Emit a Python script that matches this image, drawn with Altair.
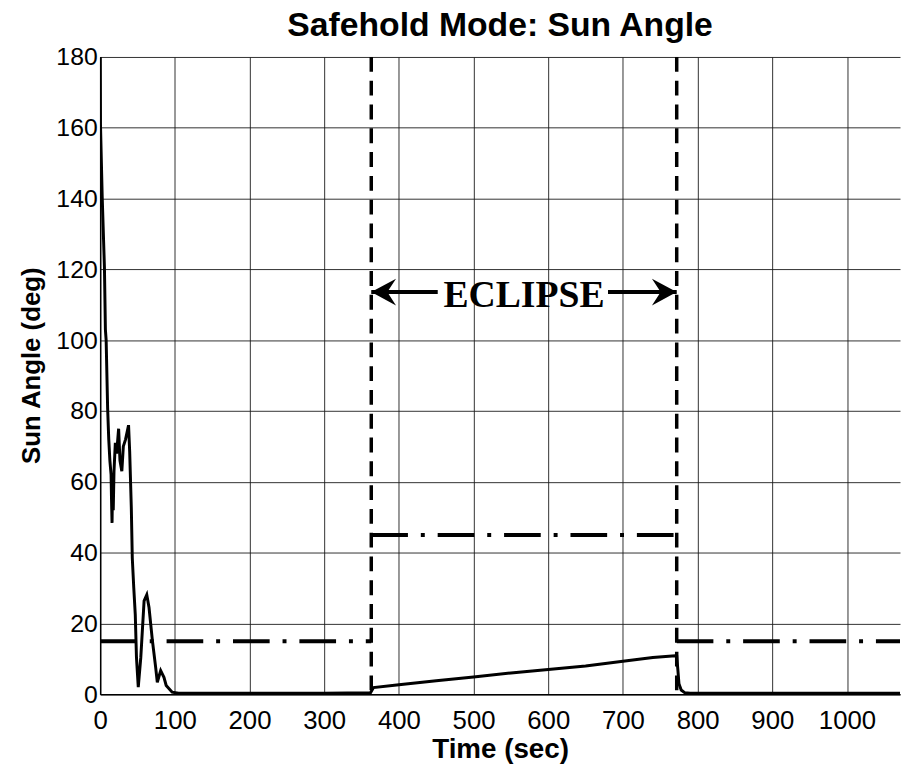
import altair as alt
import pandas as pd

# ---- data ----
time_s = [0, 0.4, 2.7, 5.7, 7, 8, 10, 11.5, 13, 14.6, 15.2, 15.9, 16.5, 17.5, 18.5, 20.3, 22,
          24.7, 26.5, 29, 31, 34, 38, 39.5, 41.7, 43, 45, 47, 48.6, 51, 54.4, 58.8, 62.4,
          65.4, 69.9, 74.3, 76.5, 81, 85.4, 88.4, 96.4, 105, 200, 300, 362,
          366, 400, 450, 500, 550, 600, 650, 700, 740, 770, 772, 773.5, 775, 778, 783,
          790, 900, 1071]
sun_angle = [180, 161, 140.6, 120.6, 103, 100, 80.7, 72, 66, 62, 55, 48.4, 58, 52, 63, 71, 68,
             75, 66, 63, 70, 72, 76, 68.6, 52.6, 38.5, 30, 22.5, 10.4, 2, 10.4, 26.4, 28.1,
             24.5, 15.2, 7.6, 3.4, 6.7, 4.8, 2.5, 0.6, 0.3, 0.3, 0.3, 0.4,
             1.9, 2.7, 3.8, 4.9, 6.0, 7.0, 8.0, 9.3, 10.4, 10.9, 10.8, 7.0, 3.0, 1.2, 0.4,
             0.3, 0.3, 0.3]

thr_t = [0, 363, 363, 772, 772, 1071]
thr_v = [15, 15, 45, 45, 15, 15]
thr_seg = ["before", "before", "eclipse", "eclipse", "after", "after"]

eclipse_t = [363, 772]

x_ticks = list(range(0, 1001, 100))
y_ticks = list(range(0, 181, 20))

label_text = ["ECLIPSE"]
label_t = [567.5]
label_y = [109.5]

shaft_start = [363, 680]
shaft_end = [452, 772]
arrow_y = [113.6, 113.6]
arrow_tip = [363, 772]
arrow_dir = ["left", "right"]

# ---- tables ----
curve_df = pd.DataFrame({"t": time_s, "angle": sun_angle})
thr_df = pd.DataFrame({"t": thr_t, "angle": thr_v, "seg": thr_seg})
ecl_df = pd.DataFrame({"t": eclipse_t})
lab_df = pd.DataFrame({"t": label_t, "angle": label_y, "txt": label_text})
shaft_df = pd.DataFrame({"t": shaft_start, "t2": shaft_end, "angle": arrow_y})
head_df = pd.DataFrame({"t": arrow_tip, "angle": arrow_y, "dir": arrow_dir})

FONT = "Liberation Sans"
xs = alt.Scale(domain=[0, 1071], nice=False, zero=False)
ys = alt.Scale(domain=[0, 180], nice=False)

x_axis = alt.Axis(values=x_ticks, format="d", title="Time (sec)", grid=True, ticks=False,
                  labelFontSize=26, labelFont=FONT, labelColor="black", labelPadding=14,
                  labelFlush=False,
                  titleFont=FONT, titleFontSize=28, titleFontWeight="bold", titleColor="black",
                  titleBaseline="alphabetic", titleY=64,
                  domainColor="black", domainWidth=1.5,
                  gridColor="#1a1a1a", gridWidth=1, gridOpacity=0.9)
y_axis = alt.Axis(values=y_ticks, format="d", title="Sun Angle (deg)", grid=True, ticks=False,
                  labelFontSize=25, labelFont=FONT, labelColor="black", labelPadding=3,
                  labelFlush=False,
                  titleFont=FONT, titleFontSize=26, titleFontWeight="bold", titleColor="black",
                  titleBaseline="alphabetic", titleX=-61, titleY=311, titleAngle=270,
                  domainColor="black", domainWidth=1.5,
                  gridColor="#1a1a1a", gridWidth=1, gridOpacity=0.9)

X = alt.X("t:Q", scale=xs, axis=x_axis, title="Time (sec)")
Y = alt.Y("angle:Q", scale=ys, axis=y_axis, title="Sun Angle (deg)")

curve = alt.Chart(curve_df).mark_line(color="black", strokeWidth=3, clip=True).encode(
    x=X, y=Y, order="t:Q",
)

thr = alt.Chart(thr_df).mark_line(color="black", strokeWidth=4, strokeDash=[37, 13, 4, 13],
                                  clip=True).encode(
    x=X, y=Y, detail="seg:N",
)

ecl = alt.Chart(ecl_df).mark_rule(color="black", strokeWidth=3.5, strokeDash=[15, 9]).encode(
    x=X,
)

shafts = alt.Chart(shaft_df).mark_rule(color="black", strokeWidth=4).encode(
    x=X, x2="t2:Q", y=Y,
)

left_path = "M0,0 L1.85,-1 L1.2,0 L1.85,1 Z"
right_path = "M0,0 L-1.85,-1 L-1.2,0 L-1.85,1 Z"
heads = alt.Chart(head_df).mark_point(filled=True, color="black", opacity=1, size=729,
                                      strokeWidth=0).encode(
    x=X, y=Y,
    shape=alt.Shape("dir:N", scale=alt.Scale(domain=["left", "right"],
                                             range=[left_path, right_path]), legend=None),
)

label = alt.Chart(lab_df).mark_text(font="Liberation Serif", fontSize=38, fontWeight="bold",
                                    color="black", baseline="alphabetic", align="center").encode(
    x=X, y=Y, text="txt:N",
)

chart = alt.layer(curve, thr, ecl, shafts, heads, label).properties(
    width=807, height=643,
    title=alt.TitleParams("Safehold Mode: Sun Angle", font=FONT, fontSize=34,
                          fontWeight="bold", color="black", anchor="middle", offset=2),
    autosize=alt.AutoSizeParams(type="none"),
    padding={"left": 93, "top": 46, "right": 1, "bottom": 72},
).configure_view(stroke=None)

chart.save("out.html", embed_options={"renderer": "svg", "actions": False})
